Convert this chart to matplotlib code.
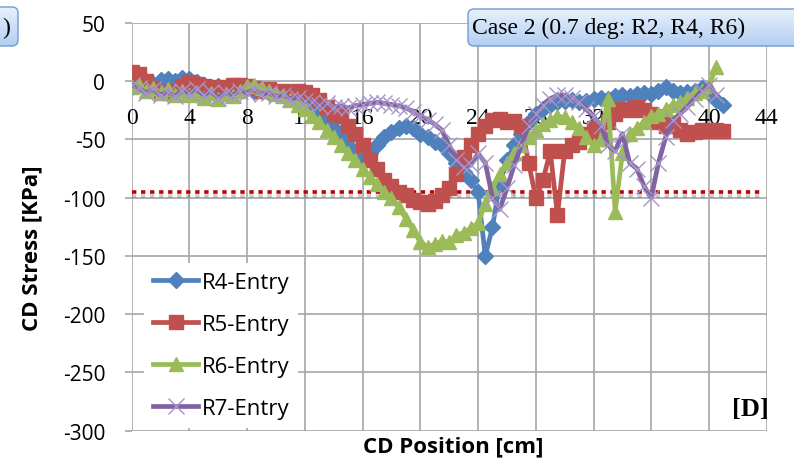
import numpy as np
import matplotlib
matplotlib.use('Agg')
import matplotlib.pyplot as plt
import matplotlib.patheffects as pe
from matplotlib.patches import FancyBboxPatch
from matplotlib.colors import LinearSegmentedColormap

# CD position [cm], 0.5 cm steps
cd_pos = [0, 0.5, 1, 1.5, 2, 2.5, 3, 3.5, 4, 4.5,
          5, 5.5, 6, 6.5, 7, 7.5, 8, 8.5, 9, 9.5,
          10, 10.5, 11, 11.5, 12, 12.5, 13, 13.5, 14, 14.5,
          15, 15.5, 16, 16.5, 17, 17.5, 18, 18.5, 19, 19.5,
          20, 20.5, 21, 21.5, 22, 22.5, 23, 23.5, 24, 24.5,
          25, 25.5, 26, 26.5, 27, 27.5, 28, 28.5, 29, 29.5,
          30, 30.5, 31, 31.5, 32, 32.5, 33, 33.5, 34, 34.5,
          35, 35.5, 36, 36.5, 37, 37.5, 38, 38.5, 39, 39.5,
          40, 40.5, 41]

r4_entry = [-2, -1, 0, -2, 1, 2, 0, 3, 2, -1,
            -3, -5, -4, -6, -5, -7, -6, -8, -8, -9,
            -10, -9, -11, -13, -15, -20, -25, -32, -40, -47,
            -55, -62, -68, -62, -55, -48, -44, -40, -38, -40,
            -45, -48, -52, -55, -62, -70, -78, -85, -95, -150,
            -125, -88, -68, -55, -45, -35, -28, -24, -20, -18,
            -17, -16, -18, -17, -15, -14, -15, -13, -12, -13,
            -11, -10, -11, -8, -5, -8, -10, -9, -8, -6,
            -10, -16, -20]

r5_entry = [8, 6, 0, -6, -9, -10, -8, -4, -1, -2,
            -4, -5, -7, -5, -3, -3, -4, -6, -8, -7,
            -9, -8, -9, -8, -9, -12, -16, -22, -28, -30,
            -38, -45, -55, -68, -75, -85, -90, -95, -98, -102,
            -104, -105, -103, -98, -92, -80, -65, -55, -45, -38,
            -33, -32, -35, -34, -38, -70, -100, -85, -60, -115,
            -60, -55, -52, -45, -40, -50, -35, -28, -24, -25,
            -22, -25, -28, -35, -38, -37, -42, -45, -44, -42,
            -43, -42, -43]

r6_entry = [-5, -3, -8, -6, -10, -7, -12, -8, -12, -10,
            -14, -10, -15, -11, -13, -8, -4, -3, -6, -8,
            -11, -13, -16, -20, -24, -30, -35, -42, -48, -55,
            -62, -68, -75, -82, -88, -95, -100, -108, -118, -128,
            -138, -142, -140, -137, -138, -132, -130, -126, -122, -105,
            -92, -80, -70, -62, -55, -48, -42, -37, -33, -30,
            -31, -35, -40, -48, -55, -50, -15, -112, -62, -45,
            -40, -35, -30, -28, -24, -20, -18, -14, -10, -8,
            -4, 12]

r7_entry = [-3, -6, -10, -7, -12, -9, -13, -8, -10, -7,
            -12, -9, -14, -10, -12, -8, -10, -7, -11, -10,
            -13, -12, -15, -14, -17, -18, -20, -19, -22, -21,
            -23, -21, -20, -19, -18, -19, -20, -21, -23, -26,
            -30, -33, -37, -42, -55, -68, -74, -72, -62, -70,
            -100, -110, -92, -72, -55, -38, -28, -20, -15, -12,
            -12, -14, -18, -24, -30, -38, -55, -60, -45, -70,
            -75, -90, -100, -70, -48, -33, -28, -22, -15, -8,
            -3, -12]

limit_x = [0, 43.7]
limit_y = [-95, -95]

x_ticks = [0, 4, 8, 12, 16, 20, 24, 28, 32, 36, 40, 44]
y_ticks = [50, 0, -50, -100, -150, -200, -250, -300]

W, H = 794, 464
plt.rcParams['font.family'] = ['Open Sans', 'DejaVu Sans']
plt.rcParams['axes.unicode_minus'] = False

fig = plt.figure(figsize=(W / 100, H / 100), dpi=100)
ax = fig.add_axes([131.7 / W, 1 - 431.7 / H, 635 / W, 407.7 / H])

grid_col = '#a6a6a6'
ax.set_xlim(0, 44)
ax.set_ylim(-300, 50)
ax.set_xticks(x_ticks)
ax.set_yticks(y_ticks)
ax.grid(True, color=grid_col, lw=1.2)
ax.set_axisbelow(True)
for s in ['top', 'right', 'left']:
    ax.spines[s].set_visible(False)
ax.spines['bottom'].set_position(('data', 0))
ax.spines['bottom'].set_visible(False)
ax.tick_params(axis='x', length=0, pad=18.5, labelsize=17, labelfontfamily='Liberation Serif')
ax.tick_params(axis='y', direction='out', length=5, color=grid_col, width=1.2, pad=14, labelsize=15)

ax.plot(limit_x, limit_y, color='#c00000', lw=2.6, linestyle=(0, (1.2, 1.3)),
        dash_capstyle='butt', zorder=2,
        path_effects=[pe.SimpleLineShadow(offset=(0, -3), alpha=0.2), pe.Normal()])

ax.plot(cd_pos, r4_entry, color='#4f81bd', lw=3.4, marker='D', ms=8, label='R4-Entry', zorder=3)
ax.plot(cd_pos, r5_entry, color='#c0504d', lw=3.4, marker='s', ms=9.5, label='R5-Entry', zorder=3)
ax.plot(cd_pos[:len(r6_entry)], r6_entry, color='#9bbb59', lw=3.4, marker='^', ms=10.5,
        label='R6-Entry', zorder=3)
ax.plot(cd_pos[:len(r7_entry)], r7_entry, color='#8064a2', lw=3.4, marker='x', ms=11, mew=1,
        mec='#a794c8', label='R7-Entry', zorder=3)

leg = ax.legend(loc='upper left', bbox_to_anchor=(144 / W, 1 - 264 / H),
                bbox_transform=fig.transFigure, fontsize=16, frameon=True, fancybox=False,
                edgecolor='none', facecolor='white', framealpha=1, borderaxespad=0,
                borderpad=0.4, handlelength=2.05, handletextpad=0.15, labelspacing=0.95)

fig.text(32 / W, 1 - 248 / H, 'CD Stress [KPa]', rotation=90, ha='center', va='center',
         fontsize=16, fontweight='bold')
fig.text(453 / W, 1 - 447 / H, 'CD Position [cm]', ha='center', va='center',
         fontsize=16, fontweight='bold')
fig.text(750 / W, 1 - 410 / H, '[D]', ha='center', va='center', fontsize=19,
         fontweight='bold', family='Liberation Serif')

# overlay in pixel coordinates for the label boxes
ov = fig.add_axes([0, 0, 1, 1])
ov.axis('off')
cmap = LinearSegmentedColormap.from_list('box', ['#e8f1fc', '#b3cef2'])
grad = np.linspace(0, 1, 64).reshape(-1, 1)
for (bx, by, bw, bh) in [(-60, 8, 78, 39), (468, 10, 345, 37)]:
    box = FancyBboxPatch((bx, by), bw, bh, boxstyle='round,pad=0,rounding_size=6',
                         fc='none', ec='#6f9bd3', lw=1.0, zorder=3)
    ov.add_patch(box)
    im = ov.imshow(grad, extent=(bx, bx + bw, by + bh, by), cmap=cmap, aspect='auto', zorder=2)
    im.set_clip_path(box)
ov.text(2, 28, ')', ha='left', va='center', fontsize=17, family='Liberation Serif')
ov.text(472, 28.5, 'Case 2 (0.7 deg: R2, R4, R6)', ha='left', va='center', fontsize=17,
        family='Liberation Serif')
ov.set_xlim(0, W)
ov.set_ylim(H, 0)

fig.savefig('out.png', dpi=100)
